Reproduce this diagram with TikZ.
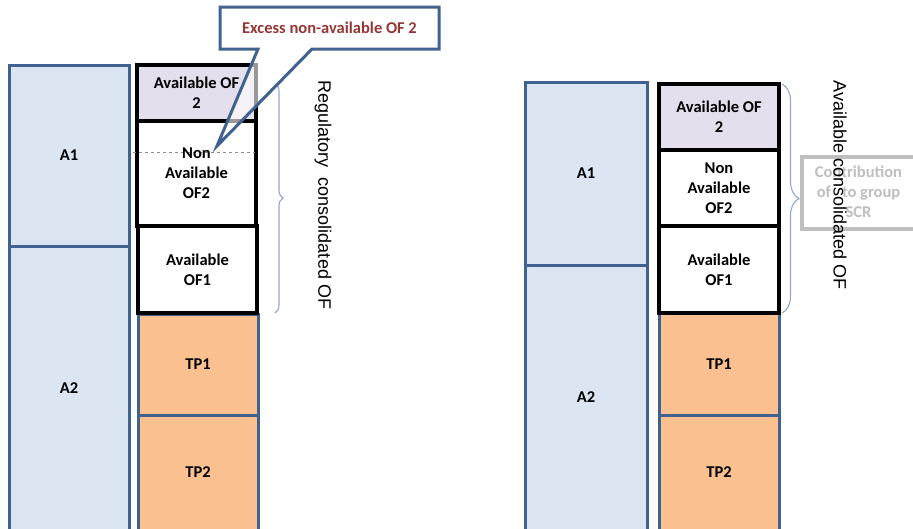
\documentclass[tikz,border=0pt]{standalone}
\usepackage{fontspec}
\setmainfont{Carlito}
\newfontfamily\arialf{Liberation Sans}
\usetikzlibrary{decorations.pathreplacing}
\definecolor{bluefill}{HTML}{DCE6F2}
\definecolor{blueline}{HTML}{41628F}
\definecolor{lavfill}{HTML}{E4DFEC}
\definecolor{tpfill}{HTML}{FAC090}
\definecolor{calltext}{HTML}{953735}
\definecolor{bracecol}{HTML}{8EA9D0}
\definecolor{grayline}{HTML}{BFBFBF}
\definecolor{dashcol}{HTML}{8C8C8C}
\begin{document}
\begin{tikzpicture}[x=1pt,y=-1pt,
  every node/.style={inner sep=0pt, outer sep=0pt},
  lbl/.style={font=\fontsize{16.5}{20}\selectfont\bfseries, align=center},
  abox/.style={lbl, draw=blueline, line width=3pt, fill=bluefill},
  ofbox/.style={lbl, draw=black, line width=3.4pt, fill=white},
  lavbox/.style={ofbox, fill=lavfill},
  tpbox/.style={lbl, draw=blueline, line width=3pt, fill=tpfill},
  bracestyle/.style={draw=bracecol, line width=1.1pt, decorate},
  vtext/.style={rotate=-90, font=\arialf\fontsize{18}{20}\selectfont}]
\useasboundingbox (0,0) rectangle (913,528);
\clip (0,0) rectangle (913,528);
% left diagram
\node[abox, minimum width=120, minimum height=181] (a1L) at (69,155.5) {A1};
\node[abox, minimum width=120, minimum height=284] (a2L) at (69,388) {A2};
\node[tpbox, minimum width=120, minimum height=101] (tp1L) at (198,364.5) {TP1};
\node[tpbox, minimum width=120, minimum height=115] (tp2L) at (198,472.5) {TP2};
\node[lavbox, minimum width=119, minimum height=56] (of2L) at (196.5,93) {Available OF\\2};
\node[ofbox, minimum width=119, minimum height=105] (naL) at (196.5,173.5) {};
\node[ofbox, minimum width=119, minimum height=87] (of1L) at (197.5,269.5) {Available\\OF1};
\coordinate (dashA) at (133,152);
\coordinate (dashB) at (255,152);
\draw[dashcol, dashed, line width=1pt] (dashA) -- (dashB);
\node[lbl] (naLtxt) at (naL.center) {Non\\Available\\OF2};
\coordinate (brLtop) at (275,83);
\coordinate (brLbot) at (275,313);
\draw[bracestyle, decoration={brace, amplitude=8pt}] (brLtop) -- (brLbot);
% callout
\coordinate (c1) at (220,7);
\coordinate (c2) at (439,7);
\coordinate (c3) at (439,49);
\coordinate (c4) at (312,49);
\coordinate (ctip) at (217,146);
\coordinate (c5) at (258,49);
\coordinate (c6) at (220,49);
\draw[blueline, line width=3pt, fill=white, fill opacity=0.6, line join=miter]
  (c1) -- (c2) -- (c3) -- (c4) -- (ctip) -- (c5) -- (c6) -- cycle;
\node[font=\fontsize{16.5}{18}\selectfont\bfseries, text=calltext] (calltxt) at (329.5,28) {Excess non-available OF 2};
\node[vtext] (regtxt) at (323,195) {Regulatory\ \ consolidated OF};
% right diagram
\node[abox, minimum width=122, minimum height=183] (a1R) at (586,173.5) {A1};
\node[abox, minimum width=122, minimum height=265] (a2R) at (586,397.5) {A2};
\node[tpbox, minimum width=120, minimum height=102] (tp1R) at (719,364) {TP1};
\node[tpbox, minimum width=120, minimum height=115] (tp2R) at (719,472.5) {TP2};
\node[lavbox, minimum width=120, minimum height=66] (of2R) at (719,117) {Available OF\\2};
\node[ofbox, minimum width=120, minimum height=76] (naR) at (719,188) {Non\\Available\\OF2};
\node[ofbox, minimum width=120, minimum height=87] (of1R) at (719,269.5) {Available\\OF1};
\coordinate (brRtop) at (782,84);
\coordinate (brRbot) at (782,313);
\draw[bracestyle, decoration={brace, amplitude=17pt}] (brRtop) -- (brRbot);
\node[draw=grayline, line width=3.4pt, fill=white, minimum width=140, minimum height=72, anchor=north west] (contrib) at (802,157) {};
\node[font=\fontsize{16.5}{20}\selectfont\bfseries, text=grayline, align=center] (contribtxt) at (858.5,192) {Contribution\\of\ \ \ to group\\SCR};
\node[vtext] (availtxt) at (840,185) {Available consolidated OF};
\end{tikzpicture}
\end{document}
